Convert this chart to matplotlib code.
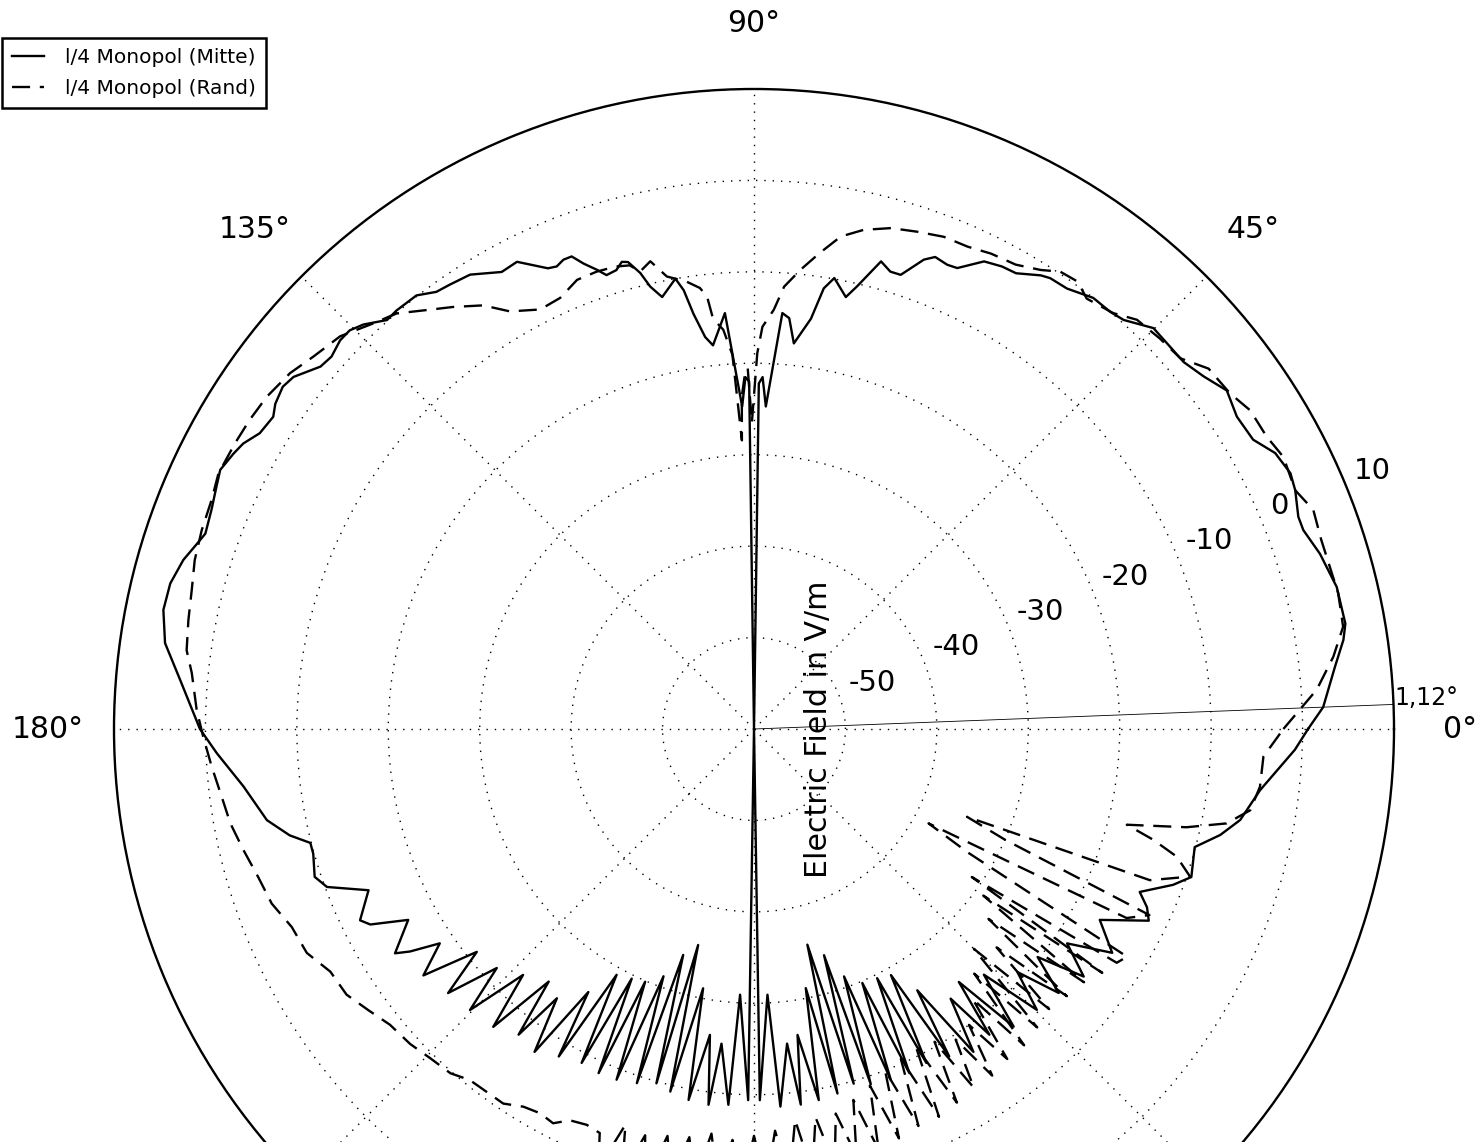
import numpy as np
import matplotlib.pyplot as plt
from matplotlib.transforms import ScaledTranslation

plt.rcParams['font.family'] = ['DejaVu Sans']
plt.rcParams['axes.unicode_minus'] = False
plt.rcParams['lines.scale_dashes'] = False

# Messdaten: Winkel in Grad, Feldstaerke in dB(V/m)
mitte_theta = [0.0, 2.2, 6.1, 8.6, 10.1, 13.7, 17.2, 19.9, 21.3, 23.8, 25.5, 27.9, 30.1, 32.9, 35.6, 38.1,
               40.5, 42.6, 45.1, 47.9, 49.5, 51.8, 54.6, 56.7, 57.7, 60.1, 61.8, 63.8, 66.2, 67.4, 69.0, 70.1,
               72.1, 73.4, 74.8, 76.9, 78.0, 79.9, 81.0, 82.1, 84.1, 85.1, 86.1, 87.9, 88.6, 89.2, 90.0,
               90.8, 91.4, 92.1, 94.0, 96.1, 97.1, 98.3, 99.1, 99.9, 102.0, 103.2, 104.0, 105.1, 105.8,
               106.7, 108.0, 108.9, 110.1, 111.1, 112.1, 113.1, 114.1, 116.9, 118.9, 122.0, 124.4, 126.0,
               127.9, 130.5, 131.9, 134.0, 135.4, 136.8, 138.6, 140.1, 142.6, 144.0, 145.8, 147.0, 149.1,
               150.8, 152.1, 154.1, 155.7, 158.0, 160.4, 161.6, 163.5, 166.0, 168.6, 171.7, 175.1, 180.0,
               182.6, 186.4, 190.6, 192.9, 194.4, 195.8, 198.6, 200.3, 202.7, 205.9, 207.0, 208.9, 212.0,
               212.9, 214.3, 216.7, 218.8, 220.8, 222.9, 224.7, 226.8, 228.8, 230.9, 232.4, 233.8, 235.8,
               237.8, 239.2, 240.8, 242.7, 243.9, 245.7, 246.7, 248.6, 249.9, 251.7, 252.6, 254.6, 255.5,
               257.0, 258.9, 260.0, 261.8, 263.1, 264.1, 266.1, 267.0, 269.1, 270.0, 270.9, 272.9, 274.0,
               276.0, 277.1, 278.1, 279.9, 281.3, 282.9, 283.9, 285.7, 287.2, 288.2, 290.0, 291.3, 293.1,
               294.3, 296.3, 297.3, 299.1, 300.8, 302.0, 304.2, 306.1, 307.6, 309.0, 311.1, 313.1, 315.2,
               317.3, 319.1, 321.2, 323.1, 325.6, 328.0, 331.1, 334.1, 335.6, 337.1, 339.6, 341.3, 345.0,
               347.2, 349.4, 353.1, 357.8, 360.0]
mitte_db = [0.6, 2.3, 3.9, 5.2, 5.7, 5.6, 4.8, 3.9, 3.9, 4.7, 5.0, 4.5, 3.1, 2.9, 3.6, 2.5,
            1.8, 1.8, 1.9, 0.3, 0.0, 0.0, -0.9, -1.0, -1.3, -2.5, -2.6, -3.0, -4.9, -5.0, -4.7, -5.4,
            -7.8, -7.8, -7.0, -10.3, -11.7, -9.9, -11.2, -14.7, -17.6, -14.9, -14.4, -24.7, -21.5, -22.2, -60,
            -22.0, -21.5, -24.7, -14.4, -17.8, -16.8, -14.1, -11.4, -10.0, -11.7, -10.3, -8.6, -7.1, -6.9,
            -7.6, -7.8, -6.9, -5.8, -4.6, -4.6, -5.0, -4.8, -2.7, -2.9, -1.4, -1.1, -0.9,
            0.1, 0.2, 0.1, 1.5, 2.1, 2.1, 1.6, 1.8, 3.4, 3.7, 3.3, 2.7, 3.0,
            4.0, 4.4, 4.9, 4.5, 4.0, 3.7, 4.2, 5.1, 5.8, 5.9, 5.1, 3.0, 0.6,
            -1.2, -3.8, -5.8, -7.9, -9.9, -9.9, -9.3, -10.2, -14.3, -12.1, -12.9, -16.8, -13.7,
            -15.2, -18.4, -14.9, -21.1, -15.8, -21.6, -16.3, -23.1, -16.7, -24.4, -17.8, -23.5, -17.3,
            -26.0, -18.3, -29.2, -18.9, -29.6, -18.7, -29.9, -18.8, -31.2, -19.2, -34.1, -19.8, -35.6,
            -19.3, -31.1, -18.8, -26.2, -18.6, -25.4, -18.8, -30.9, -19.4, -60, -19.4, -30.9, -18.6,
            -25.4, -18.6, -26.2, -18.8, -31.1, -19.1, -35.7, -19.7, -34.1, -19.1, -31.2, -18.8, -29.8,
            -18.7, -29.6, -18.9, -29.2, -18.3, -26.3, -17.3, -23.5, -17.8, -24.4, -16.8, -23.2, -16.4,
            -20.8, -15.9, -20.2, -14.9, -18.5, -13.8, -16.8, -12.0, -12.8, -14.2, -11.1, -9.5, -10.1,
            -7.7, -5.9, -4.25, -0.8, 0.6]

rand_theta = [0.0, 4.0, 7.1, 9.85, 13.1, 18.4, 21.4, 23.8, 27.2, 29.7,
              32.7, 35.2, 38.4, 41.0, 43.9, 46.9, 49.2, 52.3, 54.1, 56.2,
              58.0, 60.6, 63.5, 66.1, 68.9, 71.8, 74.7, 77.6, 80.0, 82.2,
              84.2, 86.1, 87.3, 88.8, 89.5, 90.4, 91.0, 91.5, 92.1, 92.4,
              93.3, 94.4, 95.7, 96.2, 97.0, 98.6, 100.9, 102.5, 104.0, 105.0,
              106.7, 109.0, 111.5, 114.2, 117.0, 120.3, 122.6, 125.5, 128.0, 130.7,
              133.2, 136.5, 139.8, 142.5, 145.7, 148.5, 151.2, 154.5, 157.1, 160.2,
              163.2, 166.1, 169.1, 172.1, 174.3, 178.0, 180.8, 184.0, 187.2, 190.2,
              193.3, 196.6, 199.9, 203.2, 206.6, 209.8, 213.1, 216.1, 219.1, 222.5,
              225.5, 228.6, 231.0, 233.6, 236.2, 238.6, 240.9, 243.0, 244.8, 247.1,
              249.1, 250.5, 252.0, 253.5, 255.0, 256.5, 258.0, 259.5, 261.0, 262.5,
              264.0, 265.5, 267.0, 268.5, 270.0, 271.5, 273.0, 274.5, 276.0, 277.5,
              279.0, 280.5, 282.0, 283.5, 285.0, 286.5, 288.0, 289.5, 291.0, 292.5,
              294.0, 295.5, 297.0, 298.5, 300.0, 301.5, 303.0, 304.5, 306.0, 307.5,
              309.0, 310.5, 312.0, 313.5, 315.0, 316.5, 318.0, 319.5, 321.0, 322.5,
              324.0, 325.0, 325.8, 327.2, 328.6, 330.0, 331.6, 333.1, 334.8, 336.2,
              337.6, 339.1, 341.3, 343.2, 344.5, 345.6, 347.2, 348.7, 350.7, 353.5,
              356.9, 360.0]
rand_db = [-2.1, 1.7, 3.85, 5.4, 5.6, 5.4, 5.7, 4.7, 5.1, 4.55,
           4.5, 3.7, 3.45, 1.8, 1.6, 1.3, 0.1, -0.5, 0.4, 0.2,
           -0.8, -1.7, -1.9, -2.3, -2.3, -2.75, -3.2, -4.1, -5.3, -7.5,
           -9.5, -11.5, -14.1, -16.0, -18.9, -26.5, -20.5, -21.3, -23.6, -28.4,
           -19.0, -16.2, -14.9, -12.4, -11.4, -10.5, -9.6, -7.6, -8.45, -7.5,
           -7.2, -7.1, -7.2, -8.3, -8.5, -7.1, -5.0, -3.3, -1.85, -0.05,
           0.85, 2.4, 3.1, 3.95, 4.5, 4.7, 4.8, 4.9, 4.4, 4.2,
           3.9, 3.35, 3.0, 2.65, 1.8, 1.0, 0.25, -0.55, -1.3, -1.8,
           -2.6, -3.4, -3.9, -5.0, -5.3, -6.6, -6.8, -7.8, -8.7, -9.0,
           -9.5, -9.8, -10.6, -10.7, -10.7, -11.6, -11.9, -11.6, -12.7, -13.0,
           -12.7, -9.0, -14.5, -9.0, -14.0, -9.0, -14.5, -10.0, -14.8, -10.0,
           -15.5, -10.0, -15.0, -10.0, -15.5, -10.0, -16.0, -10.5, -17.0, -11.0,
           -17.0, -11.5, -17.0, -12.0, -18.0, -12.0, -19.0, -12.5, -20.0, -13.0,
           -20.5, -13.0, -21.0, -13.5, -20.5, -14.0, -19.5, -14.0, -20.0, -14.5,
           -22.0, -14.5, -24.0, -15.0, -26.0, -15.5, -24.3, -15.0, -27.0, -14.5,
           -29.0, -13.5, -31.2, -12.8, -12.2, -33.0, -38.3, -14.3, -12.2, -30.0,
           -34.8, -13.65, -9.65, -11.7, -14.7, -17.9, -11.5, -7.3, -5.0, -4.3,
           -4.2, -2.1]

theta_ticks = [0, 45, 90, 135, 180, 225, 270, 315]
theta_labels = ['0°', '45°', '90°', '135°', '180°', '225°', '270°', '315°']
r_ticks = [-50, -40, -30, -20, -10, 0, 10]
marker_angle = 2.2
marker_text = '1,12°'

fig = plt.figure(figsize=(14.76, 11.42), dpi=100)
ax = fig.add_axes([114 / 1476, -227 / 1142, 1280 / 1476, 1280 / 1142], projection='polar')

ax.plot(np.deg2rad(mitte_theta), mitte_db, color='black', lw=1.7, label='l/4 Monopol (Mitte)')
ax.plot(np.deg2rad(rand_theta), rand_db, color='black', lw=1.7, dashes=(13, 7), label='l/4 Monopol (Rand)')

# Markierungslinie
ax.plot([np.deg2rad(marker_angle)] * 2, [-60, 10], color='black', lw=0.6)
ax.annotate(marker_text, xy=(np.deg2rad(marker_angle), 10), xytext=(1, -4), textcoords='offset points',
            fontsize=17, ha='left', va='bottom')

ax.set_ylim(-60, 10)
ax.set_yticks(r_ticks)
ax.set_yticklabels([str(v) for v in r_ticks], fontsize=21)
ax.set_rlabel_position(22.75)
ax.set_thetagrids(theta_ticks, theta_labels, fontsize=21.5)
ax.tick_params(axis='x', pad=37)
ax.grid(True, color='black', linewidth=1.0, linestyle=(0, (1, 5)))
ax.spines['polar'].set_linewidth(1.7)

# r-Beschriftung etwas nach rechts unten schieben
shift = ScaledTranslation(10 / 100, -3 / 100, fig.dpi_scale_trans)
for lbl in ax.get_yticklabels():
    lbl.set_transform(lbl.get_transform() + shift)

ax.text(0.55, 0.5, 'Electric Field in V/m', transform=ax.transAxes, rotation=90,
        fontsize=21.6, ha='center', va='center')

leg = ax.legend(loc='upper left', bbox_to_anchor=(2 / 1476, 1 - 38 / 1142), bbox_transform=fig.transFigure,
                borderaxespad=0, fancybox=False, edgecolor='black', framealpha=1, fontsize=14.5,
                handlelength=1.6, handletextpad=1.05, borderpad=0.5, labelspacing=0.6)
leg.get_frame().set_linewidth(1.8)

fig.savefig('out.png', dpi=100)
